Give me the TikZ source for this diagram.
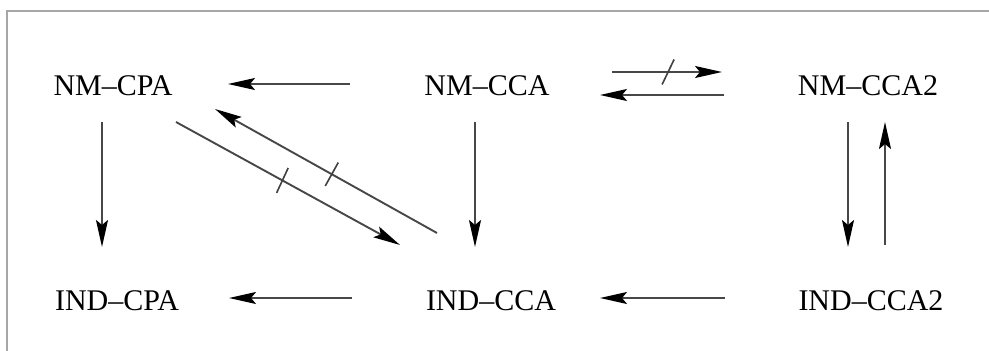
\documentclass[tikz,border=0pt]{standalone}
\usepackage{fontspec}
\setmainfont{Liberation Serif}
\usetikzlibrary{arrows.meta,calc}
\tikzset{
  lab/.style={inner sep=0pt, font=\fontsize{30}{32}\selectfont, text=black},
  arr/.style={line width=1.9pt, draw=black!72, -{Stealth[length=27pt,width=12pt,inset=5pt,color=black]}},
  slashmark/.style={line width=1.6pt, draw=black!75},
  framerule/.style={line width=2.2pt, draw=black!35}
}
\begin{document}
\begin{tikzpicture}[x=1pt,y=-1pt]
\useasboundingbox (0,0) rectangle (989,351);
\draw[framerule] (7.3,351) -- (7.3,11) -- (989,11);

\node[lab] (ncpa)  at (113,85.5)  {NM–CPA};
\node[lab] (ncca)  at (487,85.5)  {NM–CCA};
\node[lab] (ncca2) at (868,85.5)  {NM–CCA2};
\node[lab] (icpa)  at (117,300.5) {IND–CPA};
\node[lab] (icca)  at (491,300.5) {IND–CCA};
\node[lab] (icca2) at (871,300.5) {IND–CCA2};

% top row
\draw[arr] ($(ncca)+(-137,-1.5)$) -- ($(ncpa)+(115,-1.5)$);
\draw[arr] ($(ncca)+(125,-13.5)$) -- coordinate[pos=0.51] (s1) ($(ncca2)+(-146,-13.5)$);
\draw[slashmark] ($(s1)+(-6,12.5)$) -- ($(s1)+(6,-12.5)$);
\draw[arr] ($(ncca2)+(-144,9.5)$) -- ($(ncca)+(113,9.5)$);

% verticals
\draw[arr] ($(ncpa)+(-11,36.5)$) -- ($(icpa)+(-15,-53.5)$);
\draw[arr] ($(ncca)+(-12,36.5)$) -- ($(icca)+(-16,-53.5)$);
\draw[arr] ($(ncca2)+(-20,36.5)$) -- ($(icca2)+(-23,-53.5)$);
\draw[arr] ($(icca2)+(14,-55.5)$) -- ($(ncca2)+(17,36.5)$);

% diagonals
\draw[arr] ($(ncpa)+(63,36.5)$) -- coordinate[pos=0.475] (s2) ($(icca)+(-91,-55.5)$);
\draw[slashmark] ($(s2)+(-5.8,12.5)$) -- ($(s2)+(5.8,-12.5)$);
\draw[arr] ($(icca)+(-54,-67.5)$) -- coordinate[pos=0.474] (s3) ($(ncpa)+(102,23.5)$);
\draw[slashmark] ($(s3)+(-6.5,11.7)$) -- ($(s3)+(6.5,-11.7)$);

% bottom row
\draw[arr] ($(icca)+(-139,-2.5)$) -- ($(icpa)+(112,-2.5)$);
\draw[arr] ($(icca2)+(-146,-2.5)$) -- ($(icca)+(109,-2.5)$);
\end{tikzpicture}
\end{document}
